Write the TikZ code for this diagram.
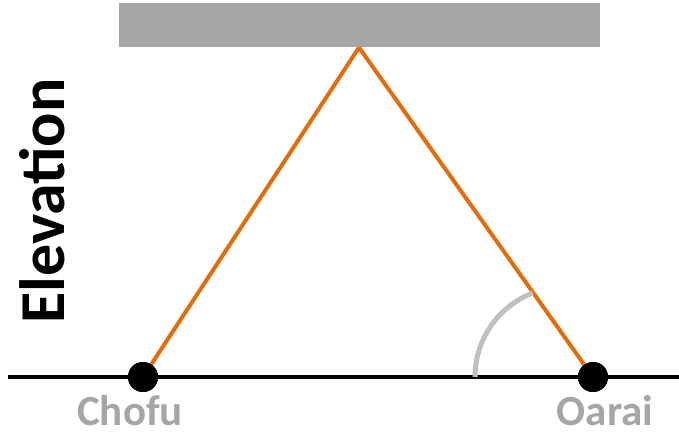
\documentclass[tikz,border=0pt]{standalone}
\usepackage{fontspec}
\setmainfont{Carlito}
\definecolor{orng}{HTML}{E46C0A}
\definecolor{rgray}{HTML}{A6A6A6}
\definecolor{agray}{HTML}{BFBFBF}
\begin{document}
\begin{tikzpicture}[x=1pt,y=-1pt,
  station/.style={circle,fill=black,inner sep=0pt,minimum size=30pt},
  lbl/.style={text=rgray,font=\fontsize{43}{43}\selectfont\bfseries,anchor=base,inner sep=0pt},
  beam/.style={orng,line width=4pt}]
\useasboundingbox (0,0) rectangle (679,433);
\fill[rgray] (119,3) rectangle (600,47.5);
\coordinate (apex) at (359,47.5);
\coordinate (gl) at (8,377);
\coordinate (gr) at (679,377);
\draw[line width=4pt] (gl) -- (gr);
\node[station] (chofu) at (143,377) {};
\node[station] (oarai) at (593,377) {};
\draw[beam] (apex) -- (chofu.center);
\draw[beam] (apex) -- (oarai.center);
\fill (chofu) circle (15);
\fill (oarai) circle (15);
\draw[agray,line width=5pt] (475,377) arc[start angle=180,end angle=249,radius=90];
\node[lbl] (tc) at (130,425) {Chofu};
\node[lbl] (to) at (605,425) {Oarai};
\node[rotate=90,anchor=base,inner sep=0pt,font=\fontsize{64}{64}\selectfont\bfseries] (elev) at (64,201) {Elevation};
\end{tikzpicture}
\end{document}
